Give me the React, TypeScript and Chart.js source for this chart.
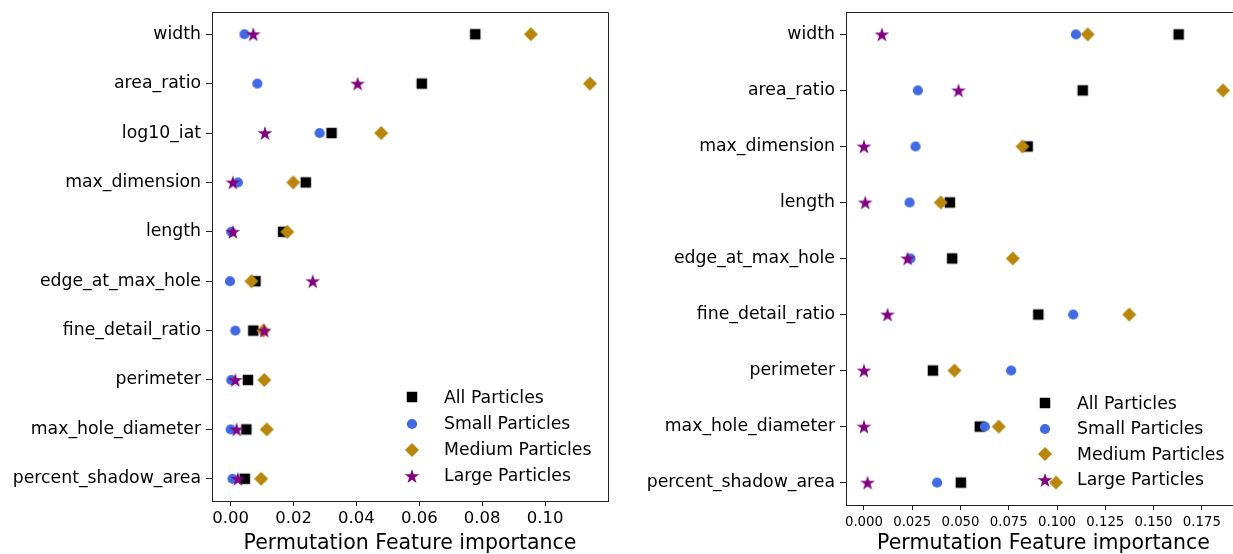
import React, { useEffect, useRef } from 'react';
import { Chart, registerables } from 'chart.js';

Chart.register(...registerables);

const FONT = "'DejaVu Sans', sans-serif";

const seriesNames = ['All Particles', 'Small Particles', 'Medium Particles', 'Large Particles'];
const seriesColors = ['#000000', '#4169E1', '#B8860B', '#800080'];
const seriesShapes = ['square', 'circle', 'diamond', 'star'];

const leftFeatures = ['width', 'area_ratio', 'log10_iat', 'max_dimension', 'length', 'edge_at_max_hole', 'fine_detail_ratio', 'perimeter', 'max_hole_diameter', 'percent_shadow_area'];
const leftAll = [0.0778, 0.0608, 0.0321, 0.0239, 0.0167, 0.0079, 0.0072, 0.0055, 0.0050, 0.0045];
const leftSmall = [0.0044, 0.0085, 0.0283, 0.0023, 0.0002, -0.0002, 0.0015, 0.0002, 0.0000, 0.0006];
const leftMedium = [0.0955, 0.1143, 0.0479, 0.0199, 0.0180, 0.0066, 0.0104, 0.0107, 0.0115, 0.0097];
const leftLarge = [0.0072, 0.0404, 0.0109, 0.0007, 0.0007, 0.0261, 0.0107, 0.0015, 0.0019, 0.0023];
const leftTicks = [0, 0.02, 0.04, 0.06, 0.08, 0.10];

const rightFeatures = ['width', 'area_ratio', 'max_dimension', 'length', 'edge_at_max_hole', 'fine_detail_ratio', 'perimeter', 'max_hole_diameter', 'percent_shadow_area'];
const rightAll = [0.1630, 0.1133, 0.0848, 0.0445, 0.0457, 0.0903, 0.0357, 0.0600, 0.0502];
const rightSmall = [0.1098, 0.0279, 0.0267, 0.0236, 0.0241, 0.1084, 0.0762, 0.0626, 0.0379];
const rightMedium = [0.1159, 0.1860, 0.0821, 0.0398, 0.0771, 0.1374, 0.0469, 0.0698, 0.0995];
const rightLarge = [0.0093, 0.0490, 0.0000, 0.0007, 0.0226, 0.0122, 0.0000, 0.0000, 0.0019];
const rightTicks = [0, 0.025, 0.05, 0.075, 0.1, 0.125, 0.15, 0.175];

function makeMarker(shape: string, color: string): HTMLCanvasElement {
  const size = 20;
  const c = document.createElement('canvas');
  c.width = size;
  c.height = size;
  const ctx = c.getContext('2d')!;
  const m = size / 2;
  ctx.fillStyle = color;
  ctx.beginPath();
  if (shape === 'square') {
    ctx.rect(m - 5.25, m - 5.25, 10.5, 10.5);
  } else if (shape === 'circle') {
    ctx.arc(m, m, 5.1, 0, Math.PI * 2);
  } else if (shape === 'diamond') {
    const r = 7;
    ctx.moveTo(m, m - r);
    ctx.lineTo(m + r, m);
    ctx.lineTo(m, m + r);
    ctx.lineTo(m - r, m);
    ctx.closePath();
  } else {
    const R = 7.7;
    const r = R * 0.381966;
    for (let i = 0; i < 10; i++) {
      const ang = -Math.PI / 2 + (i * Math.PI) / 5;
      const rr = i % 2 === 0 ? R : r;
      const x = m + rr * Math.cos(ang);
      const y = m + 0.7 + rr * Math.sin(ang);
      if (i === 0) ctx.moveTo(x, y);
      else ctx.lineTo(x, y);
    }
    ctx.closePath();
  }
  ctx.fill();
  return c;
}

function dataRange(series: number[][]) {
  const all = series.flat();
  const lo = Math.min(...all);
  const hi = Math.max(...all);
  const pad = (hi - lo) * 0.05;
  return { min: lo - pad, max: hi + pad };
}

interface PanelCfg {
  labels: string[];
  series: number[][];
  ticks: number[];
  decimals: number;
  tickFont: number;
  tickPad: number;
  yWidth: number;
  xHeight: number;
  padRight: number;
  rowGap: number;
}

function buildChart(canvas: HTMLCanvasElement, cfg: PanelCfg) {
  const markers = seriesShapes.map((s, i) => makeMarker(s, seriesColors[i]));
  const n = cfg.labels.length;
  const xr = dataRange(cfg.series);

  const boxPlugin = {
    id: 'boxPlugin',
    afterDatasetsDraw(chart: any) {
      const { ctx, chartArea: a } = chart;
      ctx.save();
      ctx.strokeStyle = '#222';
      ctx.lineWidth = 1;
      const top = Math.round(a.top + 0.5) - 0.5;
      const right = Math.round(a.right + 0.5) - 0.5;
      ctx.beginPath();
      ctx.moveTo(a.left, top);
      ctx.lineTo(right, top);
      ctx.lineTo(right, a.bottom);
      ctx.stroke();
      ctx.restore();
    },
  };

  const legendPlugin = {
    id: 'customLegend',
    afterDraw(chart: any) {
      const { ctx, chartArea: a } = chart;
      ctx.save();
      ctx.font = `17.3px ${FONT}`;
      ctx.fillStyle = '#000';
      ctx.textBaseline = 'middle';
      ctx.textAlign = 'left';
      const x0 = Math.round(a.right - 196);
      seriesNames.forEach((name, i) => {
        const y = a.bottom - 25 - (3 - i) * cfg.rowGap;
        ctx.drawImage(markers[i], x0 - 10, Math.round(y) - 10);
        ctx.fillText(name, x0 + 32, y + 1);
      });
      ctx.restore();
    },
  };

  const orders = [3, 2, 1, 0];

  return new Chart(canvas, {
    type: 'scatter',
    data: {
      datasets: cfg.series.map((vals, si) => ({
        label: seriesNames[si],
        data: vals.map((v, i) => ({ x: v, y: i })),
        pointStyle: markers[si] as any,
        pointRadius: 5,
        backgroundColor: seriesColors[si],
        borderColor: seriesColors[si],
        order: orders[si],
      })),
    },
    options: {
      responsive: false,
      animation: false,
      events: [],
      layout: { padding: { top: 12, right: cfg.padRight, left: 0, bottom: 0 } },
      plugins: {
        legend: { display: false },
        tooltip: { enabled: false },
      },
      scales: {
        x: {
          type: 'linear',
          min: xr.min,
          max: xr.max,
          afterBuildTicks: (s: any) => {
            s.ticks = cfg.ticks.map((v) => ({ value: v }));
          },
          afterFit: (s: any) => {
            s.height = cfg.xHeight;
            s.paddingLeft = 0;
            s.paddingRight = 0;
          },
          ticks: {
            autoSkip: false,
            maxRotation: 0,
            minRotation: 0,
            padding: cfg.tickPad,
            color: '#000',
            font: { family: FONT, size: cfg.tickFont },
            callback: (v: any) => Number(v).toFixed(cfg.decimals),
          },
          grid: {
            display: true,
            drawOnChartArea: false,
            drawTicks: true,
            tickLength: 5,
            color: '#222',
            tickColor: '#222',
          },
          border: { display: true, color: '#222', width: 1 },
          title: {
            display: true,
            text: 'Permutation Feature importance',
            color: '#000',
            font: { family: FONT, size: 20.5 },
            padding: { top: 0, bottom: 5 },
          },
        },
        y: {
          type: 'linear',
          reverse: true,
          min: -0.05 * (n - 1),
          max: (n - 1) * 1.05,
          afterBuildTicks: (s: any) => {
            s.ticks = cfg.labels.map((_, i) => ({ value: i }));
          },
          afterFit: (s: any) => {
            s.width = cfg.yWidth;
            s.paddingTop = 0;
            s.paddingBottom = 0;
          },
          ticks: {
            autoSkip: false,
            padding: 5,
            color: '#000',
            font: { family: FONT, size: 17.3 },
            callback: (v: any) => cfg.labels[Math.round(Number(v))],
          },
          grid: {
            display: true,
            drawOnChartArea: false,
            drawTicks: true,
            tickLength: 6,
            color: '#222',
            tickColor: '#222',
          },
          border: { display: true, color: '#222', width: 1 },
        },
      },
    },
    plugins: [boxPlugin, legendPlugin],
  } as any);
}

export default function App() {
  const leftRef = useRef<HTMLCanvasElement>(null);
  const rightRef = useRef<HTMLCanvasElement>(null);

  useEffect(() => {
    const c1 = buildChart(leftRef.current!, {
      labels: leftFeatures,
      series: [leftAll, leftSmall, leftMedium, leftLarge],
      ticks: leftTicks,
      decimals: 2,
      tickFont: 16.5,
      tickPad: 3,
      yWidth: 212,
      xHeight: 60,
      padRight: 12,
      rowGap: 26.2,
    });
    const c2 = buildChart(rightRef.current!, {
      labels: rightFeatures,
      series: [rightAll, rightSmall, rightMedium, rightLarge],
      ticks: rightTicks,
      decimals: 3,
      tickFont: 13.3,
      tickPad: 5,
      yWidth: 226,
      xHeight: 56,
      padRight: 10,
      rowGap: 25.6,
    });
    return () => {
      c1.destroy();
      c2.destroy();
    };
  }, []);

  return (
    <div style={{ position: 'absolute', left: 0, top: 0, width: 1233, height: 554, overflow: 'hidden', background: '#fff' }}>
      <canvas ref={leftRef} width={620} height={561} style={{ position: 'absolute', left: 0, top: 0, width: 620, height: 561 }} />
      <canvas ref={rightRef} width={631} height={561} style={{ position: 'absolute', left: 620, top: 0, width: 631, height: 561 }} />
    </div>
  );
}
